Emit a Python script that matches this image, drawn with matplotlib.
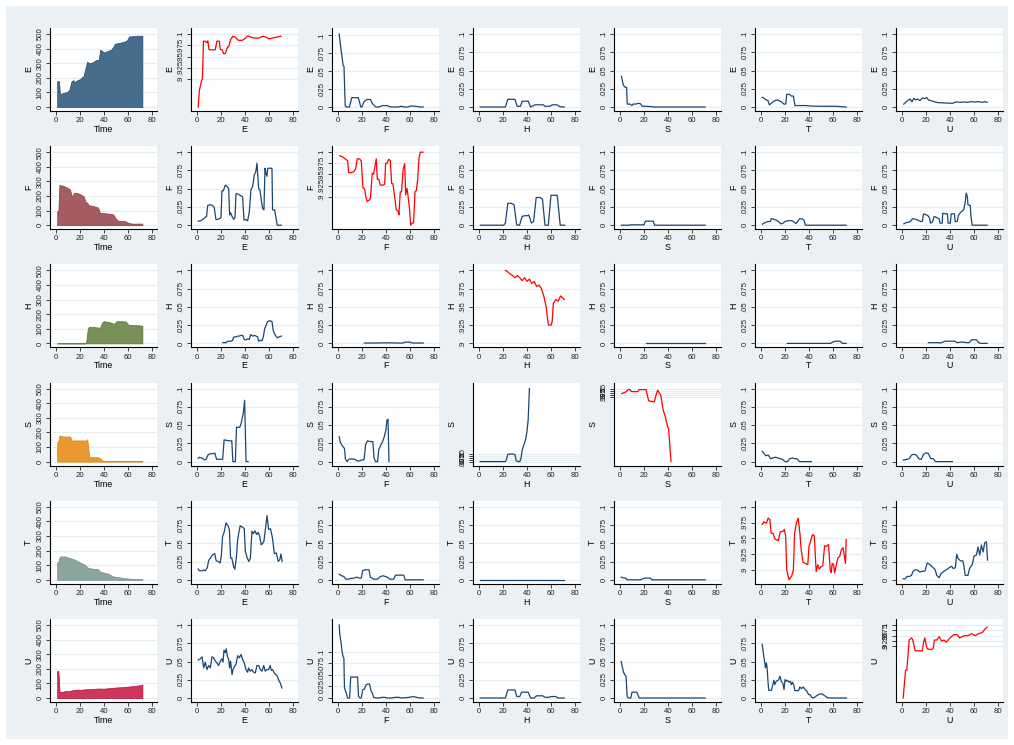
import matplotlib
matplotlib.use("Agg")
import matplotlib.pyplot as plt
from matplotlib.patches import Rectangle

plt.rcParams['font.family'] = ['Liberation Sans', 'DejaVu Sans']

names = ["E", "F", "H", "S", "T", "U"]

# ---- counts over time (first column) ----
e_time = [1, 2.5, 3.3, 6, 9, 11, 13, 14.5, 15.5, 17, 20, 23, 24.5, 26, 27.3, 30, 34, 35.7, 36.8, 38, 40, 42, 46, 48, 49, 52, 56, 59, 61, 63, 67, 72]
e_count = [177, 177, 85, 97, 101, 115, 177, 184, 168, 180, 191, 212, 265, 311, 300, 304, 323, 323, 392, 387, 373, 380, 392, 415, 433, 438, 445, 454, 484, 484, 488, 488]
f_time = [1, 2, 2.8, 6, 9, 11.7, 13, 13.9, 15, 17, 20, 22.8, 25, 26, 27, 31, 35, 36.7, 39.4, 45, 47.8, 49.7, 52, 57.5, 60, 63, 72]
f_count = [96, 96, 275, 270, 259, 245, 200, 204, 222, 222, 213, 200, 154, 156, 138, 131, 122, 85, 83, 78, 73, 46, 30, 28, 18, 11, 11]
h_time = [1, 25, 26.5, 27.5, 29.7, 36.7, 38.6, 40, 45, 48.3, 50.5, 54.7, 58.3, 60.3, 63, 72]
h_count = [0, 0, 100, 114, 114, 107, 145, 152, 145, 134, 152, 152, 150, 127, 127, 122]
s_time = [1, 2, 2.8, 6, 11.7, 13, 15.8, 25.5, 26, 27.8, 35, 36.7, 39.4, 72]
s_count = [133, 138, 179, 172, 172, 145, 145, 145, 154, 30, 30, 23, 3, 3]
t_time = [1, 2, 3.3, 7.5, 11.7, 15.8, 20, 24, 27, 31, 35, 36.7, 39.4, 43.6, 47.8, 52, 57.5, 63, 72]
t_count = [119, 126, 160, 160, 149, 138, 119, 103, 80, 76, 73, 57, 50, 41, 23, 18, 11, 7, 5]
u_time = [1, 2, 3, 5, 8, 10, 15, 18, 20, 25, 30, 35, 40, 45, 50, 55, 60, 65, 70, 72]
u_count = [185, 185, 40, 42, 48, 47, 55, 58, 56, 60, 62, 65, 64, 68, 72, 74, 78, 82, 88, 92]

# ---- row E ----
e_e_x = [1, 2, 3, 4, 4.5, 5.4, 6.8, 8.2, 9, 10.1, 12.4, 15.2, 16.6, 18.6, 19.4, 20.8, 22.3, 23.7, 25.4, 26.5, 27.9, 29.9, 32, 34.4, 37.7, 40.6, 42.3, 44.8, 47.6, 51.8, 54.6, 57.5, 60.3, 63, 66, 70]
e_e_y = [0.838, 0.875, 0.887, 0.898, 0.9, 0.984, 0.984, 0.981, 0.985, 0.965, 0.965, 0.965, 0.984, 0.984, 0.966, 0.965, 0.956, 0.957, 0.971, 0.972, 0.987, 0.995, 0.993, 0.986, 0.986, 0.991, 0.996, 0.993, 0.991, 0.991, 0.995, 0.993, 0.989, 0.991, 0.993, 0.995]
e_f_x = [1, 2, 3.4, 4.3, 5, 6, 7, 9.5, 11.5, 15.8, 17, 19, 20, 21.5, 24, 27, 28.6, 31.4, 34, 37, 41, 44, 50, 52.6, 55.5, 58, 61, 65, 68, 71]
e_f_y = [0.102, 0.087, 0.069, 0.058, 0.057, 0.0014, 0, 0, 0.013, 0.013, 0.013, 0, 0, 0.007, 0.0105, 0.0105, 0.005, 0, 0, 0.002, 0.002, 0, 0, 0.001, 0, 0, 0.0014, 0.001, 0, 0]
e_h_x = [1, 22, 24, 30, 31.8, 34.6, 36, 41, 43, 46.6, 53.6, 55, 59, 61, 65, 67.5, 71]
e_h_y = [0, 0, 0.0105, 0.0105, 0.001, 0.001, 0.008, 0.008, 0, 0.003, 0.003, 0.001, 0.001, 0.003, 0.003, 0.0005, 0]
e_s_x = [1.2, 2.8, 4.3, 5.5, 6, 8.3, 10, 10.8, 13, 15.4, 17, 18.5, 20.6, 26.8, 28, 71]
e_s_y = [0.042, 0.030, 0.027, 0.027, 0.004, 0.004, 0.002, 0.004, 0.004, 0.005, 0.0046, 0.001, 0.001, 0.0005, 0, 0]
e_t_x = [1.2, 3.7, 5.8, 7, 9.2, 11.4, 13.8, 16.9, 19, 20.6, 21.5, 23.7, 25.2, 27, 28.3, 37.5, 40.6, 50, 62, 71]
e_t_y = [0.0133, 0.0105, 0.0087, 0.0028, 0.006, 0.0087, 0.0096, 0.0073, 0.004, 0.004, 0.0174, 0.0174, 0.015, 0.015, 0.002, 0.002, 0.0014, 0.001, 0.001, 0]
e_u_x = [1.5, 2.8, 4.6, 6.8, 8.3, 9.8, 11.4, 13, 15, 17, 19, 20.6, 22, 24.3, 26.8, 29.8, 36, 42, 45, 48.3, 51.4, 54.5, 57.5, 60.6, 63.7, 66.8, 69, 71]
e_u_y = [0.004, 0.006, 0.0087, 0.011, 0.007, 0.012, 0.0096, 0.011, 0.0087, 0.0124, 0.0115, 0.013, 0.0096, 0.0087, 0.0073, 0.006, 0.0055, 0.005, 0.0069, 0.0064, 0.0069, 0.0064, 0.0073, 0.0069, 0.0073, 0.0064, 0.0073, 0.0064]

# ---- row F ----
f_e_x = [1, 2.8, 4.7, 6.7, 8, 8.9, 10.8, 13, 14.4, 15.8, 17.2, 18.6, 20, 20.8, 21.9, 23.6, 25.5, 26.4, 27.2, 28, 29.2, 30.6, 31.7, 32.5, 33.9, 35.8, 38, 39.2, 40.8, 42.2, 43.6, 45, 46.4, 47.8, 49, 50, 51.4, 52.5, 53.6, 54.7, 55.8, 56.7, 57.5, 58.3, 59, 60.8, 62.5, 63, 64.7, 65.8, 66.9, 68.6, 70.3]
f_e_y = [0.0055, 0.006, 0.0078, 0.0105, 0.012, 0.027, 0.028, 0.027, 0.024, 0.0078, 0.0078, 0.009, 0.0105, 0.047, 0.047, 0.055, 0.052, 0.05, 0.014, 0.017, 0.012, 0.008, 0.0105, 0.043, 0.043, 0.041, 0.039, 0.007, 0.0078, 0.006, 0.018, 0.049, 0.053, 0.069, 0.073, 0.085, 0.05, 0.048, 0.034, 0.023, 0.021, 0.078, 0.071, 0.067, 0.078, 0.078, 0.078, 0.021, 0.021, 0.0105, 0, 0, 0]
f_f_x = [1.4, 4.2, 6.4, 8, 8.9, 11, 13, 14.7, 16, 18, 19.4, 20.8, 22.2, 23, 24.2, 25.8, 27, 28.6, 29.7, 30.8, 31.9, 32.8, 34, 35.3, 37.5, 38.9, 39.7, 40.8, 42.2, 43.6, 44.7, 45.8, 47.2, 48.6, 50, 50.8, 51.9, 53, 54.2, 55.6, 56.4, 57.5, 58.3, 59.7, 60.6, 61.9, 63, 64.2, 65.3, 66.4, 67.5, 68.6, 70.8]
f_f_y = [0.992, 0.989, 0.984, 0.981, 0.954, 0.954, 0.956, 0.962, 0.985, 0.985, 0.98, 0.92, 0.917, 0.904, 0.889, 0.892, 0.896, 0.953, 0.951, 0.969, 0.985, 0.939, 0.939, 0.926, 0.926, 0.928, 0.975, 0.975, 0.984, 0.981, 0.93, 0.929, 0.9, 0.87, 0.868, 0.859, 0.911, 0.911, 0.96, 0.974, 0.904, 0.919, 0.904, 0.87, 0.836, 0.841, 0.841, 0.911, 0.914, 0.938, 0.986, 1.0, 1.0]
f_h_x = [1.2, 20.6, 22, 24, 26.8, 29.2, 31.4, 33.8, 36, 38, 40.6, 41.5, 43.7, 45.5, 47.7, 50.5, 52.9, 55, 57.8, 60, 65.2, 67.7, 71.4]
f_h_y = [0, 0, 0.003, 0.030, 0.03, 0.028, 0.0005, 0, 0.012, 0.013, 0.013, 0.014, 0.003, 0.005, 0.038, 0.038, 0.036, 0, 0, 0.041, 0.041, 0, 0]
f_s_x = [1.2, 8, 8.3, 20, 21.2, 27.7, 28.9, 71]
f_s_y = [0, 0, 0.0005, 0.0005, 0.0055, 0.0055, 0, 0]
f_t_x = [1.2, 3.7, 5.8, 7.7, 8.6, 10.5, 12.3, 14.5, 16.6, 18, 20, 22, 24.3, 26, 27.7, 29.2, 30.5, 32, 34.5, 36, 37, 71]
f_t_y = [0.0014, 0.0037, 0.005, 0.005, 0.009, 0.0083, 0.0073, 0.005, 0.0018, 0.0023, 0.005, 0.006, 0.0064, 0.006, 0.004, 0.0023, 0.0046, 0.0087, 0.0087, 0.0064, 0, 0]
f_u_x = [1.5, 3.7, 5.8, 7.7, 8.6, 11.4, 13.8, 15.7, 17, 18, 20, 21.5, 23, 23.7, 25.5, 26.8, 28.3, 30, 31, 31.7, 33.5, 34, 36, 37.8, 38.5, 40.3, 41, 43.7, 44.3, 46, 47, 48.3, 49.8, 51.4, 52.6, 53.5, 54.5, 55, 56.9, 57.5, 58.5, 71]
f_u_y = [0.0018, 0.0037, 0.004, 0.0064, 0.0087, 0.0083, 0.0064, 0.005, 0.0055, 0.0156, 0.0142, 0.0133, 0.0096, 0.0028, 0.0046, 0.012, 0.011, 0.0096, 0.0087, 0.0028, 0.0028, 0.0165, 0.0156, 0.0156, 0.0028, 0.0028, 0.0156, 0.0156, 0.005, 0.005, 0.0133, 0.0165, 0.019, 0.021, 0.030, 0.044, 0.039, 0.028, 0.027, 0.012, 0, 0]

# ---- row H ----
h_e_x = [21.4, 24.2, 25.6, 28.3, 29.7, 30.5, 32.5, 33.9, 35.3, 36.7, 38, 39.4, 40.8, 42.2, 43.6, 44.7, 46.4, 47.8, 49.2, 50.5, 51.4, 52.8, 54.2, 55.3, 56.4, 57.5, 58.9, 60.8, 62.5, 63.6, 65.3, 67, 68.6, 70.3]
h_e_y = [0.001, 0.001, 0.003, 0.003, 0.004, 0.0086, 0.009, 0.01, 0.01, 0.011, 0.011, 0.0055, 0.0045, 0.0064, 0.0055, 0.012, 0.01, 0.011, 0.01, 0.009, 0.003, 0.0045, 0.0036, 0.009, 0.02, 0.0245, 0.030, 0.031, 0.030, 0.017, 0.011, 0.0077, 0.009, 0.01]
h_f_x = [22, 30, 40, 50, 54, 56, 60, 62, 71]
h_f_y = [0.0005, 0.0005, 0.0008, 0.0005, 0.0005, 0.0018, 0.0018, 0.0005, 0.0005]
h_h_x = [22, 24, 26, 28, 30, 32, 34, 36, 38, 40, 42, 44, 46, 48, 50, 52, 54, 56, 57, 58, 60, 61, 62, 64, 66, 68, 70, 71]
h_h_y = [1.0, 0.998, 0.995, 0.993, 0.99, 0.993, 0.99, 0.986, 0.99, 0.985, 0.988, 0.982, 0.985, 0.978, 0.98, 0.975, 0.965, 0.95, 0.935, 0.925, 0.925, 0.93, 0.955, 0.96, 0.958, 0.965, 0.962, 0.96]
h_s_x = [22, 71]
h_s_y = [0, 0]
h_t_x = [22, 58, 60, 62, 66, 68, 71]
h_t_y = [0, 0, 0.002, 0.003, 0.003, 0, 0]
h_u_x = [22, 30, 32, 36, 44, 46, 50, 54, 56, 58, 62, 64, 66, 71]
h_u_y = [0.001, 0.001, 0.0005, 0.003, 0.003, 0.001, 0.002, 0.001, 0.001, 0.005, 0.005, 0.001, 0, 0]

# ---- row S ----
s_e_x = [1, 2, 4.3, 6.3, 7.7, 9.1, 10.6, 13.4, 14.9, 16.3, 19, 21.4, 22.6, 24.9, 27, 29, 29.9, 32, 32.9, 35.7, 36.9, 38.6, 39.7, 40.9, 42.6]
s_e_y = [0.0046, 0.006, 0.0046, 0.0023, 0.0032, 0.009, 0.0105, 0.011, 0.0115, 0.0032, 0.0032, 0.0032, 0.0298, 0.029, 0.0284, 0.0284, 0, 0, 0.047, 0.047, 0.053, 0.0665, 0.084, 0, 0]
s_f_x = [1, 2, 3.7, 5.4, 6.2, 7.6, 9, 11.3, 14, 16, 18.3, 19.7, 21.7, 23, 24.5, 26.8, 29, 30.1, 31.3, 33, 34, 35.8, 37.2, 38.6, 40, 40.8, 41.7, 42.5]
s_f_y = [0.034, 0.026, 0.0216, 0.018, 0.0032, 0, 0.0032, 0.0037, 0.0032, 0.0009, 0.0009, 0.0023, 0.0023, 0.0229, 0.0284, 0.0275, 0.0275, 0.0046, 0, 0, 0.0165, 0.0229, 0.0275, 0.034, 0.0436, 0.057, 0.058, 0]
s_h_x = [1, 22, 23, 24, 26, 28, 30, 31, 33, 34, 35, 36, 37, 38, 39, 40, 41, 41.5, 42]
s_h_y = [0, 0, 0.03, 0.095, 0.1, 0.1, 0.09, 0.01, 0, 0, 0.04, 0.15, 0.2, 0.25, 0.3, 0.4, 0.55, 0.75, 0.96]
s_s_x = [1.4, 5, 6.7, 8.3, 9.7, 14.7, 16, 21.7, 23.9, 28.6, 30, 31.4, 32.8, 34, 36, 37.8, 39.7, 40.5, 42.5]
s_s_y = [0.94, 0.96, 0.988, 0.988, 0.964, 0.964, 0.988, 0.988, 0.852, 0.84, 0.92, 0.98, 0.948, 0.92, 0.74, 0.66, 0.54, 0.52, 0.12]
s_t_x = [1, 2, 4, 6, 8, 10, 12, 14, 16, 18, 20, 22, 24, 26, 28, 30, 32, 42]
s_t_y = [0.014, 0.012, 0.008, 0.009, 0.004, 0.005, 0.006, 0.005, 0.004, 0.003, 0, 0, 0.004, 0.005, 0.004, 0.004, 0, 0]
s_u_x = [1, 4, 6, 8, 10, 12, 14, 16, 18, 20, 22, 24, 26, 28, 42]
s_u_y = [0.002, 0.003, 0.004, 0.009, 0.01, 0.009, 0.004, 0.003, 0.01, 0.012, 0.011, 0.004, 0.004, 0, 0]

# ---- row T ----
t_e_x = [1, 1.9, 3.9, 5.8, 7, 8.7, 9.7, 11.3, 12.9, 14.8, 16, 17.7, 19.3, 20.3, 21.3, 22.6, 24.2, 25.8, 27, 28, 29, 30.6, 31.6, 32.9, 33.9, 34.8, 36, 38, 39.4, 40.3, 41.9, 43.2, 44.5, 45.8, 47, 48.4, 49.7, 51, 52.3, 53.5, 54.8, 55.8, 57, 58.4, 59.7, 61.3, 62.9, 64.5, 66.1, 67.7, 69, 70, 71]
t_e_y = [0.0147, 0.0124, 0.0124, 0.0133, 0.0124, 0.0174, 0.0266, 0.0298, 0.0344, 0.0358, 0.026, 0.0252, 0.023, 0.033, 0.0596, 0.065, 0.078, 0.074, 0.069, 0.0298, 0.0298, 0.0174, 0.0147, 0.032, 0.055, 0.064, 0.074, 0.072, 0.07, 0.039, 0.0298, 0.0252, 0.0298, 0.0665, 0.0633, 0.067, 0.062, 0.065, 0.0596, 0.048, 0.05, 0.053, 0.069, 0.088, 0.069, 0.07, 0.0573, 0.0358, 0.0367, 0.0252, 0.0275, 0.0353, 0.0252]
t_f_x = [1, 2.9, 4.8, 6.5, 8.7, 10.3, 13.5, 15.5, 17.4, 19.4, 20.6, 23.2, 25.8, 27, 29.7, 32.9, 35.5, 37.7, 41, 43.2, 46.5, 48, 51.6, 54.8, 56, 71]
t_f_y = [0.0078, 0.0055, 0.0046, 0.0009, 0.0009, 0.0018, 0.0023, 0.0037, 0.0023, 0.0023, 0.0128, 0.0138, 0.0138, 0.0037, 0.0009, 0.0009, 0.0046, 0.0055, 0.0037, 0.0009, 0.0009, 0.0064, 0.0064, 0.0064, 0, 0]
t_h_x = [1, 71]
t_h_y = [0, 0]
t_s_x = [1, 3.5, 5, 5.8, 17, 20.3, 25, 26.8, 71]
t_s_y = [0.0037, 0.0023, 0.0023, 0, 0, 0.0023, 0.0023, 0, 0]
t_t_x = [1, 2.3, 4.5, 6, 7.3, 8.5, 10, 11.5, 14.4, 16, 18.3, 19.4, 20.6, 21.4, 23.4, 25.6, 27, 28, 29.6, 31, 32.4, 33.5, 35, 37, 39, 40, 41.7, 43, 44.4, 46, 47.3, 48.7, 50, 51.5, 53, 54.4, 56.3, 57.7, 58.5, 59.4, 60.6, 61.4, 62.8, 64.2, 65.6, 67, 68.4, 69.3, 70.4, 71]
t_t_y = [0.972, 0.976, 0.974, 0.982, 0.98, 0.958, 0.958, 0.949, 0.946, 0.96, 0.961, 0.964, 0.953, 0.9, 0.884, 0.89, 0.9, 0.958, 0.975, 0.982, 0.958, 0.932, 0.912, 0.91, 0.908, 0.937, 0.948, 0.956, 0.954, 0.897, 0.908, 0.901, 0.905, 0.906, 0.938, 0.937, 0.94, 0.9, 0.895, 0.91, 0.908, 0.895, 0.908, 0.919, 0.921, 0.932, 0.935, 0.924, 0.91, 0.948]
t_u_x = [1, 2.8, 4.2, 6.2, 7.9, 9.3, 11.3, 13.2, 14.9, 16.9, 19.2, 21, 23.1, 25.4, 27.6, 29, 31, 32.4, 35.2, 37.2, 39.4, 41.4, 42.8, 44.5, 45.6, 46.8, 48.7, 50.7, 51.5, 52.7, 54.9, 56.3, 58.6, 60, 62, 63.4, 64.8, 66.2, 67.6, 69, 70.4, 71.3]
t_u_y = [0.0014, 0.0014, 0.0046, 0.0046, 0.006, 0.012, 0.0139, 0.013, 0.0106, 0.0116, 0.012, 0.023, 0.021, 0.0176, 0.0139, 0.006, 0.0028, 0.0083, 0.012, 0.0139, 0.0167, 0.0185, 0.0153, 0.0167, 0.035, 0.029, 0.026, 0.026, 0.02, 0.006, 0.006, 0.0153, 0.021, 0.0324, 0.0338, 0.045, 0.0338, 0.0477, 0.038, 0.051, 0.052, 0.027]

# ---- row U ----
u_e_x = [1, 2.8, 4.2, 5.6, 6.9, 8.3, 9.7, 11.1, 12.5, 13.9, 15.3, 16.7, 18, 19.4, 20.8, 21.7, 22.5, 23.6, 24.4, 25.3, 26.4, 27.2, 28, 29.2, 30, 31.4, 32.5, 33.9, 35.3, 36.7, 38, 39.4, 40.8, 42.2, 43, 44.4, 45.8, 47.2, 48.6, 50, 51.4, 52.8, 54.2, 55.6, 56.9, 58.3, 59.7, 61, 61.9, 63, 64.4, 65.8, 66.9, 68, 69.4, 70.8]
u_e_y = [0.052, 0.0537, 0.0564, 0.0413, 0.049, 0.039, 0.0445, 0.0413, 0.0564, 0.055, 0.0505, 0.048, 0.0445, 0.0505, 0.0537, 0.049, 0.0656, 0.062, 0.0674, 0.0573, 0.0528, 0.0413, 0.0505, 0.032, 0.039, 0.0436, 0.0459, 0.058, 0.055, 0.0596, 0.0528, 0.048, 0.039, 0.0353, 0.0413, 0.0367, 0.039, 0.0353, 0.0344, 0.0445, 0.0445, 0.039, 0.0367, 0.0445, 0.0367, 0.039, 0.039, 0.0445, 0.038, 0.039, 0.0344, 0.032, 0.03, 0.025, 0.0206, 0.0138]
u_f_x = [1, 1.4, 2.6, 3.4, 4.3, 4.9, 5.4, 6.9, 8, 9.7, 10.6, 12.6, 14.9, 16.3, 17.1, 18.3, 19.4, 20.6, 22, 23.4, 24.9, 26.3, 27.7, 28.6, 29.7, 32, 34.9, 36.3, 39.1, 41.1, 44.9, 47.7, 50.6, 53.4, 56.3, 59.1, 62, 64.9, 66.3, 69.1, 71]
u_f_y = [0.157, 0.139, 0.118, 0.1, 0.088, 0.086, 0.0214, 0.0107, 0, 0, 0.045, 0.045, 0.045, 0.045, 0.0036, 0, 0, 0.0179, 0.0193, 0.0286, 0.03, 0.03, 0.0143, 0.0107, 0.0014, 0, 0, 0.0014, 0.0014, 0, 0, 0.0014, 0.0014, 0, 0.0007, 0.0014, 0.0029, 0.0021, 0.0007, 0, 0]
u_h_x = [1, 22, 24, 30, 31.5, 34, 35.5, 41, 43, 46, 48, 53, 55, 58, 60, 64, 66, 71]
u_h_y = [0, 0, 0.011, 0.011, 0.002, 0.002, 0.008, 0.008, 0, 0, 0.003, 0.003, 0.001, 0.001, 0.002, 0.002, 0, 0]
u_s_x = [1, 2, 3, 4, 5, 6, 7, 9, 10, 14, 16, 71]
u_s_y = [0.05, 0.042, 0.035, 0.032, 0.03, 0.002, 0, 0, 0.008, 0.008, 0, 0]
u_t_x = [1, 2.3, 3.1, 3.7, 4.5, 5.1, 5.9, 6.5, 8.7, 9.9, 10.7, 11.5, 12.7, 14.4, 15.8, 16.9, 18.3, 19.2, 20, 21.1, 22, 23.4, 24.5, 25.4, 26.2, 27.3, 28.2, 29.6, 31.3, 32.4, 33.8, 35.2, 36.9, 38.3, 39.7, 40.8, 42.3, 43.7, 45, 46.5, 48.7, 51, 53, 54.9, 56.6, 71.3]
u_t_y = [0.0734, 0.0573, 0.049, 0.0413, 0.048, 0.0413, 0.0206, 0.0106, 0.0106, 0.0183, 0.0243, 0.0183, 0.0229, 0.0243, 0.0298, 0.0229, 0.0197, 0.0115, 0.0252, 0.0229, 0.0243, 0.0216, 0.0229, 0.0183, 0.0216, 0.0183, 0.0101, 0.0101, 0.0101, 0.0151, 0.0128, 0.0151, 0.0115, 0.0092, 0.0046, 0.0046, 0.0009, 0, 0.0014, 0.0032, 0.0055, 0.0055, 0.0032, 0.0009, 0, 0]
u_u_x = [1, 3, 4, 6, 8, 9, 11, 15, 17, 18, 19, 20, 21, 24, 26, 27, 29, 31, 33, 35, 37, 40, 43, 46, 48, 52, 55, 58, 61, 64, 67, 69, 71]
u_u_y = [0.66, 0.79, 0.79, 0.93, 0.94, 0.93, 0.88, 0.88, 0.88, 0.92, 0.94, 0.91, 0.89, 0.885, 0.89, 0.93, 0.93, 0.945, 0.925, 0.93, 0.92, 0.94, 0.955, 0.955, 0.94, 0.95, 0.95, 0.96, 0.95, 0.96, 0.965, 0.98, 0.99]

areas = {
    "E": (e_time, e_count), "F": (f_time, f_count), "H": (h_time, h_count),
    "S": (s_time, s_count), "T": (t_time, t_count), "U": (u_time, u_count),
}
lines = {
    ("E", "E"): (e_e_x, e_e_y), ("E", "F"): (e_f_x, e_f_y), ("E", "H"): (e_h_x, e_h_y),
    ("E", "S"): (e_s_x, e_s_y), ("E", "T"): (e_t_x, e_t_y), ("E", "U"): (e_u_x, e_u_y),
    ("F", "E"): (f_e_x, f_e_y), ("F", "F"): (f_f_x, f_f_y), ("F", "H"): (f_h_x, f_h_y),
    ("F", "S"): (f_s_x, f_s_y), ("F", "T"): (f_t_x, f_t_y), ("F", "U"): (f_u_x, f_u_y),
    ("H", "E"): (h_e_x, h_e_y), ("H", "F"): (h_f_x, h_f_y), ("H", "H"): (h_h_x, h_h_y),
    ("H", "S"): (h_s_x, h_s_y), ("H", "T"): (h_t_x, h_t_y), ("H", "U"): (h_u_x, h_u_y),
    ("S", "E"): (s_e_x, s_e_y), ("S", "F"): (s_f_x, s_f_y), ("S", "H"): (s_h_x, s_h_y),
    ("S", "S"): (s_s_x, s_s_y), ("S", "T"): (s_t_x, s_t_y), ("S", "U"): (s_u_x, s_u_y),
    ("T", "E"): (t_e_x, t_e_y), ("T", "F"): (t_f_x, t_f_y), ("T", "H"): (t_h_x, t_h_y),
    ("T", "S"): (t_s_x, t_s_y), ("T", "T"): (t_t_x, t_t_y), ("T", "U"): (t_u_x, t_u_y),
    ("U", "E"): (u_e_x, u_e_y), ("U", "F"): (u_f_x, u_f_y), ("U", "H"): (u_h_x, u_h_y),
    ("U", "S"): (u_s_x, u_s_y), ("U", "T"): (u_t_x, u_t_y), ("U", "U"): (u_u_x, u_u_y),
}

area_ticks = [0, 100, 200, 300, 400, 500]
share_ticks = [0, 0.025, 0.05, 0.075, 0.1]
diag_ticks = [0.9, 0.925, 0.95, 0.975, 1.0]
x_ticks = [0, 20, 40, 60, 80]

line_col = "#1a476f"
fill_cols = {"E": "#486c8c", "F": "#a65d62", "H": "#779159",
             "S": "#e99833", "T": "#8ba59d", "U": "#cd375d"}
edge_cols = {"E": "#1a476f", "F": "#90353b", "H": "#55752f",
             "S": "#e37e00", "T": "#6e8e84", "U": "#c10534"}


def fmt(v):
    if v == 0:
        return "0"
    s = ("%g" % v)
    if s.startswith("0."):
        s = s[1:]
    return s


W, H = 1014, 745
fig = plt.figure(figsize=(W / 100, H / 100), dpi=100)
fig.patch.set_facecolor("white")
fig.add_artist(Rectangle((6 / W, 6 / H), (W - 12) / W, (H - 12) / H,
                         transform=fig.transFigure, facecolor="#eaf0f3",
                         edgecolor="none", zorder=-10))


def style(ax, ticks, lo, hi, xname, yname):
    r = hi - lo
    ax.set_ylim(lo - r * 4 / 73, hi + r * 6 / 73)
    ax.set_xlim(-5, 84.2)
    ax.set_xticks(x_ticks)
    ax.set_xticklabels([str(t) for t in x_ticks])
    ax.set_yticks(ticks)
    ax.set_yticklabels([fmt(t) for t in ticks], rotation=90, va="center")
    ax.set_facecolor("white")
    for sp in ["top", "right"]:
        ax.spines[sp].set_visible(False)
    for sp in ["left", "bottom"]:
        ax.spines[sp].set_linewidth(0.8)
    ax.tick_params(direction="out", length=3, width=0.6, labelsize=5.6, pad=1.5,
                   colors="#222222")
    ax.yaxis.grid(True, color="#e6eef0", lw=0.9)
    ax.set_axisbelow(True)
    ax.set_xlabel(xname, fontsize=6.4, labelpad=0.5)
    ax.set_ylabel(yname, fontsize=6.4, labelpad=2.5)


for r, rn in enumerate(names):
    for c in range(7):
        left = 50 + 141 * c
        top = 28 + 118.2 * r
        ax = fig.add_axes([left / W, 1 - (top + 83) / H, 107 / W, 83 / H])
        if c == 0:
            tx, cnt = areas[rn]
            ax.fill_between(tx, 0, cnt, facecolor=fill_cols[rn],
                            edgecolor=edge_cols[rn], lw=0.5, zorder=3)
            style(ax, area_ticks, 0, 500, "Time", rn)
            continue
        cn = names[c - 1]
        xs, ys = lines[(rn, cn)]
        if rn == cn:
            ax.plot(xs, ys, color="#ff0000", lw=0.9, zorder=3)
            ticks = diag_ticks
        else:
            ax.plot(xs, ys, color=line_col, lw=0.9, zorder=3)
            ticks = share_ticks
        lo = min(min(ys), ticks[0])
        hi = max(max(ys), ticks[-1])
        style(ax, ticks, lo, hi, cn, rn)

fig.savefig("out.png", dpi=100, facecolor=fig.get_facecolor())
